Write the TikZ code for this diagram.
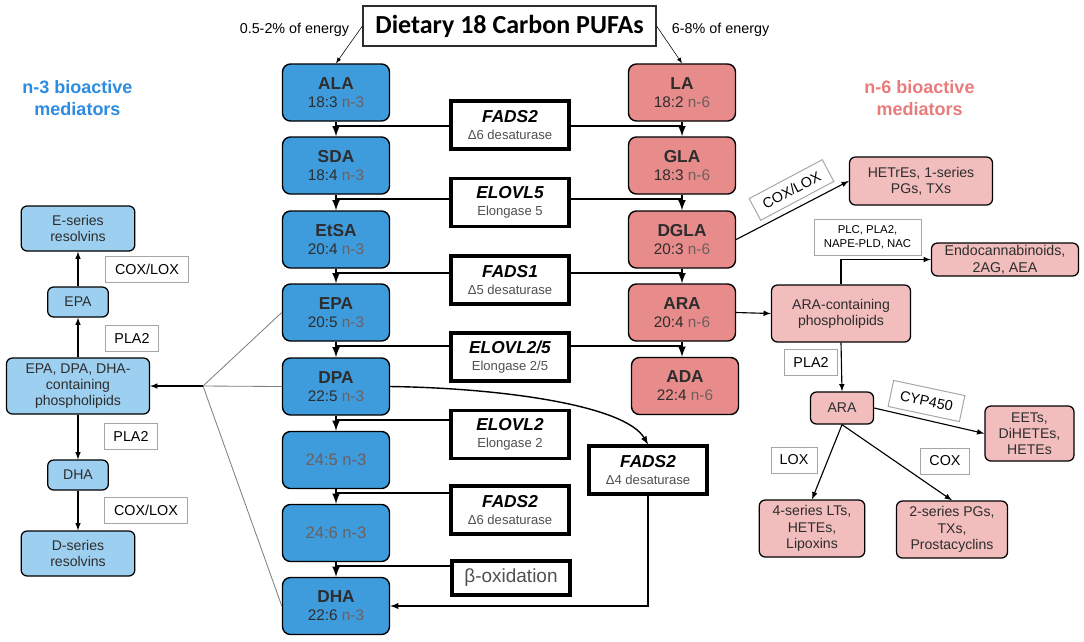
\documentclass[tikz,border=0pt]{standalone}
\usepackage{fontspec}
\setmainfont{Liberation Sans}
\newfontfamily\titlufont{Carlito}
\usetikzlibrary{calc}

\definecolor{albastru}{RGB}{62,155,220}
\definecolor{albastrudeschis}{RGB}{157,208,240}
\definecolor{somon}{RGB}{231,139,139}
\definecolor{roz}{RGB}{242,189,189}
\definecolor{textgri}{RGB}{45,45,45}
\definecolor{omega}{RGB}{110,95,95}
\definecolor{subgri}{RGB}{80,80,80}
\definecolor{eticheta3}{RGB}{46,140,224}
\definecolor{eticheta6}{RGB}{232,124,124}

\tikzset{
  acid/.style={draw, line width=1pt, rounded corners=0.2cm, minimum width=2.675cm,
    minimum height=1.425cm, inner sep=0pt, align=center, text=textgri,
    font=\fontsize{10.9}{12.8}\selectfont},
  enzima/.style={draw, line width=2.2pt, fill=white, minimum width=2.95cm,
    minimum height=1.2cm, inner sep=0pt, align=center,
    font=\fontsize{9.3}{12}\selectfont},
  mediator/.style={draw, line width=0.9pt, rounded corners=0.15cm, inner sep=0pt,
    align=center, text=textgri, font=\fontsize{10}{11.5}\selectfont},
  eticheta/.style={draw=gray!70, line width=0.7pt, fill=white, inner sep=0pt,
    minimum height=0.65cm, align=center, font=\fontsize{10.2}{12}\selectfont},
  sageata/.style={-latex, line width=0.8pt},
  pas/.style={-latex, line width=1.5pt},
  legatura/.style={line width=1.5pt},
  fir/.style={gray, line width=0.6pt}
}

\begin{document}
\begin{tikzpicture}[x=0.025cm, y=-0.025cm]
  \useasboundingbox (0,0) rectangle (1084,641);

  % titlu
  \node[draw=textgri, line width=0.8pt, minimum width=7.325cm, minimum height=1cm,
    font=\titlufont\bfseries\fontsize{18.5}{20}\selectfont] (titlu) at (509.5,26)
    {Dietary 18 Carbon PUFAs};
  \node[anchor=east, font=\fontsize{10.2}{12}\selectfont] (energie3) at (354,30) {0.5-2\% of energy};
  \node[anchor=west, font=\fontsize{10.2}{12}\selectfont] (energie6) at (667,30) {6-8\% of energy};

  % coloana n-3
  \foreach \nume/\y/\acid/\formula in {ALA/92.5/ALA/18:3, SDA/165.5/SDA/18:4,
    EtSA/239.5/EtSA/20:4, EPA/312.5/EPA/20:5, DPA/386.5/DPA/22:5, DHA/606/DHA/22:6}
  {
    \node[acid, fill=albastru] (\nume) at (336,\y)
      {{\fontsize{12.3}{13}\selectfont\bfseries \acid}\\\formula{} \textcolor{omega}{n-3}};
  }
  \node[acid, fill=albastru, text=omega, font=\fontsize{11.8}{13}\selectfont] (C245) at (336,460) {24:5 n-3};
  \node[acid, fill=albastru, text=omega, font=\fontsize{11.8}{13}\selectfont] (C246) at (336,533) {24:6 n-3};

  % coloana n-6
  \foreach \nume/\y/\acid/\formula in {LA/92.5/LA/18:2, GLA/165.5/GLA/18:3,
    DGLA/239.5/DGLA/20:3, ARA/312.5/ARA/20:4}
  {
    \node[acid, fill=somon] (\nume) at (682,\y)
      {{\fontsize{12.3}{13}\selectfont\bfseries \acid}\\\formula{} \textcolor{omega}{n-6}};
  }
  \node[acid, fill=somon] (ADA) at (685,386)
    {{\fontsize{12.3}{13}\selectfont\bfseries ADA}\\22:4 \textcolor{omega}{n-6}};

  \draw[->, >=latex] (titlu.west) -- (ALA.north);
  \draw[->, >=latex] (titlu.east) -- (LA.north);

  % enzime
  \foreach \nume/\y/\gena/\rol in {FADSa/125/FADS2/Δ6 desaturase,
    ELOVLa/202.5/ELOVL5/Elongase 5, FADSb/280/FADS1/Δ5 desaturase,
    ELOVLb/357/ELOVL2\slash5/Elongase 2\slash5, ELOVLc/434.5/ELOVL2/Elongase 2,
    FADSc/510/FADS2/Δ6 desaturase}
  {
    \node[enzima] (\nume) at (510,\y)
      {{\fontsize{12.3}{13}\selectfont\bfseries\itshape \gena}\\\textcolor{subgri}{\rol}};
  }
  \node[enzima, minimum height=0.85cm, text=subgri, font=\fontsize{13.5}{14}\selectfont]
    (boxid) at (511,578) {β-oxidation};
  \node[enzima] (FADSd) at (648,470)
    {{\fontsize{12.3}{13}\selectfont\bfseries\itshape FADS2}\\\textcolor{subgri}{Δ4 desaturase}};

  % legaturi enzime - coloane
  \foreach \enz/\sus in {FADSa/ALA, ELOVLa/SDA, FADSb/EtSA, ELOVLb/EPA,
    ELOVLc/DPA, FADSc/C245, boxid/C246}
  {
    \coordinate (j\sus) at ($(\sus.south)+(0,4)$);
    \draw[legatura] (\enz.west |- j\sus) -- (j\sus);
  }
  \foreach \enz/\sus in {FADSa/LA, ELOVLa/GLA, FADSb/DGLA, ELOVLb/ARA}
  {
    \coordinate (k\sus) at ($(\sus.south)+(0,4)$);
    \draw[legatura] (\enz.east |- k\sus) -- (k\sus);
  }
  \foreach \a/\b in {ALA/SDA, SDA/EtSA, EtSA/EPA, EPA/DPA, DPA/C245, C245/C246,
    C246/DHA, LA/GLA, GLA/DGLA, DGLA/ARA}
    \draw[pas] (\a.south) -- (\b.north);
  \draw[pas] (ARA.south) -- (ARA.south |- ADA.north);

  % calea Δ4
  \draw[sageata, line width=1pt] (DPA.east) .. controls (500,388) and (625,405) .. (FADSd.north);
  \draw[sageata, line width=1pt] (FADSd.south) |- (DHA.east);

  % mediatori n-3
  \node[text=eticheta3, align=center, font=\bfseries\fontsize{12.8}{15.6}\selectfont]
    (titlu3) at (77.5,98) {n-3 bioactive\\mediators};
  \node[mediator, fill=albastrudeschis, minimum width=2.84cm, minimum height=1.125cm]
    (Eserie) at (78,228.5) {E-series\\resolvins};
  \node[mediator, fill=albastrudeschis, minimum width=1.515cm, minimum height=0.75cm]
    (EPAmic) at (78,302) {EPA};
  \node[mediator, fill=albastrudeschis, minimum width=3.575cm, minimum height=1.4cm]
    (fosfo3) at (78,386) {EPA, DPA, DHA-\\containing\\phospholipids};
  \node[mediator, fill=albastrudeschis, minimum width=1.515cm, minimum height=0.75cm]
    (DHAmic) at (78,475) {DHA};
  \node[mediator, fill=albastrudeschis, minimum width=2.84cm, minimum height=1.125cm]
    (Dserie) at (78,553.5) {D-series\\resolvins};
  \node[eticheta, minimum width=2.06cm] (coxlox1) at (147,269) {COX/LOX};
  \node[eticheta, minimum width=1.335cm] (pla1) at (132,338.5) {PLA2};
  \node[eticheta, minimum width=1.335cm] (pla2) at (131,436) {PLA2};
  \node[eticheta, minimum width=2.06cm] (coxlox2) at (146,510) {COX/LOX};

  \draw[sageata] (EPAmic.north) -- (Eserie.south);
  \draw[sageata] (fosfo3.north) -- (EPAmic.south);
  \draw[sageata] (fosfo3.south) -- (DHAmic.north);
  \draw[sageata] (DHAmic.south) -- (Dserie.north);

  \coordinate (nod) at (203,386);
  \draw[fir] (EPA.west) -- (nod) -- (DHA.west);
  \draw[fir] (DPA.west) -- (nod);
  \draw[sageata] (nod) -- (fosfo3.east);

  % mediatori n-6
  \node[text=eticheta6, align=center, font=\bfseries\fontsize{12.8}{15.6}\selectfont]
    (titlu6) at (919.5,98) {n-6 bioactive\\mediators};
  \node[mediator, fill=roz, minimum width=3.575cm, minimum height=1.2cm]
    (HETrE) at (921,181) {HETrEs, 1-series\\PGs, TXs};
  \node[eticheta, rotate=28, minimum width=2.07cm, minimum height=0.615cm]
    (coxlox3) at (791.5,190) {COX/LOX};
  \node[eticheta, minimum width=2.675cm, minimum height=0.9cm,
    font=\fontsize{8.1}{10.2}\selectfont] (enzendo) at (867.5,237) {PLC, PLA2,\\NAPE-PLD, NAC};
  \node[mediator, fill=roz, minimum width=3.675cm, minimum height=0.825cm,
    font=\fontsize{10.1}{11.9}\selectfont] (endo) at (1005,259.5) {Endocannabinoids,\\2AG, AEA};
  \node[mediator, fill=roz, minimum width=3.475cm, minimum height=1.425cm]
    (fosfo6) at (841,313.5) {ARA-containing\\phospholipids};
  \node[eticheta, minimum width=1.325cm] (pla3) at (811,362) {PLA2};
  \node[mediator, fill=roz, minimum width=1.575cm, minimum height=0.8cm]
    (ARAmic) at (842,408) {ARA};
  \node[eticheta, rotate=-12, minimum width=1.82cm, minimum height=0.665cm]
    (cyp) at (926.5,401) {CYP450};
  \node[mediator, fill=roz, minimum width=2.225cm, minimum height=1.375cm]
    (EET) at (1029.5,433.5) {EETs,\\DiHETEs,\\HETEs};
  \node[eticheta, minimum width=1.15cm] (lox) at (794,460) {LOX};
  \node[eticheta, minimum width=1.225cm] (cox) at (945,461) {COX};
  \node[mediator, fill=roz, minimum width=2.635cm, minimum height=1.425cm]
    (LT) at (812,528.5) {4-series LTs,\\HETEs,\\Lipoxins};
  \node[mediator, fill=roz, minimum width=2.775cm, minimum height=1.425cm]
    (PG) at (952,529.5) {2-series PGs,\\TXs,\\Prostacyclins};

  \draw[sageata] (DGLA.east) -- (HETrE.west);
  \draw[sageata] (ARA.east) -- (fosfo6.west);
  \draw[sageata] (fosfo6.north) |- (endo.west);
  \draw[sageata] (fosfo6.south) -- (ARAmic.north);
  \draw[sageata] (ARAmic.east) -- (EET.west);
  \draw[sageata] (ARAmic.south) -- (LT.north);
  \draw[sageata] (ARAmic.south) -- (PG.north);
\end{tikzpicture}
\end{document}
